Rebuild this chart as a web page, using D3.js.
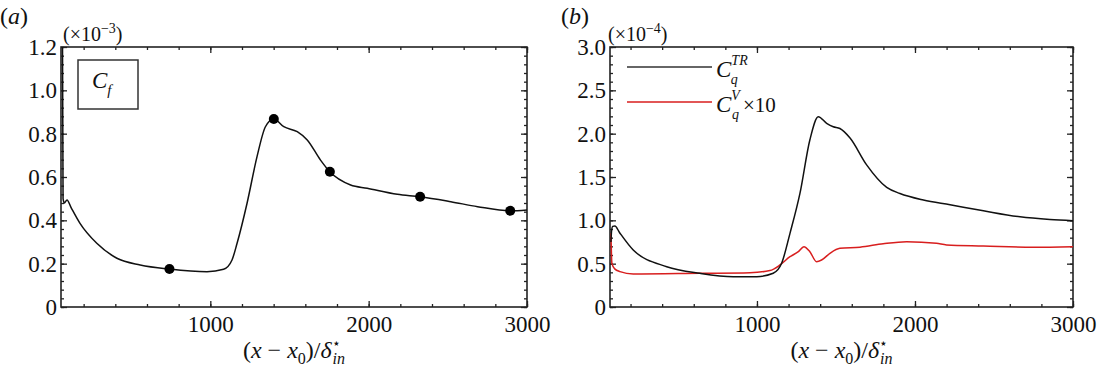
<!DOCTYPE html>
<html>
<head>
<meta charset="utf-8">
<script src="https://cdn.jsdelivr.net/npm/d3@7"></script>
<style>
  body { margin: 0; background: #fff; }
  text { font-family: "Liberation Serif", "Times New Roman", serif; fill: #111; }
</style>
</head>
<body>
<script>
// datos leidos de la figura
// panel (a): Cf
var cfX = [66, 70, 78, 95, 120, 177, 283, 410, 557, 742, 979, 1084, 1137, 1169, 1232, 1295, 1348, 1401, 1464, 1549, 1612, 1696, 1755, 1886, 1991, 2181, 2325, 2519, 2688, 2894, 3000]
var cfY = [1.3, 0.50, 0.48, 0.494, 0.46, 0.386, 0.294, 0.225, 0.194, 0.175, 0.163, 0.174, 0.217, 0.294, 0.479, 0.694, 0.832, 0.868, 0.832, 0.809, 0.771, 0.678, 0.624, 0.563, 0.548, 0.52, 0.509, 0.486, 0.463, 0.444, 0.448]
var dotX = [742, 1401, 1755, 2325, 2894]
var dotY = [0.175, 0.868, 0.624, 0.509, 0.444]

// panel (b): Cq^TR y Cq^V x10
var trX = [76, 80, 87, 101, 130, 217, 429, 639, 850, 998, 1103, 1156, 1209, 1272, 1335, 1388, 1441, 1483, 1525, 1589, 1694, 1821, 1905, 2053, 2222, 2433, 2665, 2854, 3000]
var trY = [0.75, 0.88, 0.93, 0.935, 0.86, 0.658, 0.465, 0.389, 0.35, 0.35, 0.389, 0.504, 0.85, 1.31, 1.93, 2.196, 2.12, 2.08, 2.06, 1.95, 1.64, 1.38, 1.31, 1.235, 1.18, 1.11, 1.04, 1.01, 0.996]
var vX = [76, 82, 100, 133, 217, 639, 956, 1082, 1146, 1209, 1262, 1297, 1335, 1377, 1409, 1462, 1525, 1652, 1799, 1947, 2136, 2200, 2433, 2749, 3000]
var vY = [0.85, 0.504, 0.44, 0.408, 0.38, 0.389, 0.396, 0.42, 0.485, 0.58, 0.638, 0.696, 0.638, 0.523, 0.542, 0.62, 0.677, 0.69, 0.73, 0.754, 0.735, 0.716, 0.704, 0.689, 0.696]

// ticks
var xMajor = [1000, 2000, 3000]
var xMinor = d3.range(200, 3001, 200)
var yMajorA = [0, 0.2, 0.4, 0.6, 0.8, 1.0, 1.2]
var yMinorA = d3.range(0, 1.2001, 0.04)
var yMajorB = [0, 0.5, 1.0, 1.5, 2.0, 2.5, 3.0]
var yMinorB = d3.range(0, 3.0001, 0.1)

var svg = d3.select("body").append("svg")
    .attr("width", 1099)
    .attr("height", 370)

var H = 260, TOP = 47

function zip(a, b) { return a.map((v, i) => [v, b[i]]) }

// dibuja marco, ejes y ticks de un panel
function panel(left, width, xDom, yMax, yMajor, yMinor, fmt, id) {
    var x = d3.scaleLinear().domain(xDom).range([0, width])
    var y = d3.scaleLinear().domain([0, yMax]).range([H, 0])
    var g = svg.append("g").attr("transform", "translate(" + left + "," + TOP + ")")

    g.append("clipPath").attr("id", id).append("rect").attr("x", -2).attr("width", width + 2).attr("height", H)

    // ticks menores
    g.append("g").call(d3.axisLeft(y).tickValues(yMinor).tickSize(-3).tickFormat(""))
    g.append("g").attr("transform", "translate(" + width + ",0)")
        .call(d3.axisRight(y).tickValues(yMinor).tickSize(-3).tickFormat(""))
    g.append("g").attr("transform", "translate(0," + H + ")")
        .call(d3.axisBottom(x).tickValues(xMinor).tickSize(-3).tickFormat(""))
    g.append("g").call(d3.axisTop(x).tickValues(xMinor).tickSize(-3).tickFormat(""))

    // ticks mayores con etiquetas
    g.append("g").attr("class", "lab")
        .call(d3.axisLeft(y).tickValues(yMajor).tickSize(-6).tickPadding(4).tickFormat(fmt))
    g.append("g").attr("transform", "translate(" + width + ",0)")
        .call(d3.axisRight(y).tickValues(yMajor).tickSize(-6).tickFormat(""))
    g.append("g").attr("class", "lab").attr("transform", "translate(0," + H + ")")
        .call(d3.axisBottom(x).tickValues(xMajor).tickSize(-6).tickPadding(9).tickFormat(d3.format("d")))
    g.append("g").call(d3.axisTop(x).tickValues(xMajor).tickSize(-6).tickFormat(""))

    g.selectAll(".domain").remove()
    g.selectAll(".tick line").attr("stroke", "#222").attr("stroke-width", 1.3)
    g.selectAll(".lab text").attr("font-size", 23).attr("font-family", "Liberation Serif").attr("fill", "#111")

    g.append("rect").attr("width", width).attr("height", H)
        .attr("fill", "none").attr("stroke", "#222").attr("stroke-width", 1.6)

    // titulo eje x: (x - x0)/delta*_in
    var t = g.append("text").attr("x", width / 2).attr("y", 311).attr("text-anchor", "middle").attr("font-size", 24)
    t.append("tspan").text("(")
    t.append("tspan").attr("font-style", "italic").text("x")
    t.append("tspan").text(" \u2212 ")
    t.append("tspan").attr("font-style", "italic").text("x")
    t.append("tspan").attr("font-size", 16).attr("dy", 6).text("0")
    t.append("tspan").attr("dy", -6).text(")/")
    t.append("tspan").attr("font-style", "italic").text("\u03b4")
    t.append("tspan").attr("font-size", 14).attr("dy", -10).text("\u22c6")
    t.append("tspan").attr("font-size", 16).attr("font-style", "italic").attr("dy", 16).attr("dx", -8).text("in")

    return { g: g, x: x, y: y }
}

var fmtA = d => d === 0 ? "0" : d3.format(".1f")(d)

// ---------- panel (a)
var A = panel(61, 466, [57, 3000], 1.2, yMajorA, yMinorA, fmtA, "clipA")

var lineA = d3.line().x(d => A.x(d[0])).y(d => A.y(d[1])).curve(d3.curveMonotoneX)
A.g.append("path").datum(zip(cfX, cfY))
    .attr("clip-path", "url(#clipA)")
    .attr("d", lineA).attr("fill", "none").attr("stroke", "#111").attr("stroke-width", 1.5)

A.g.selectAll("circle").data(zip(dotX, dotY)).enter().append("circle")
    .attr("cx", d => A.x(d[0])).attr("cy", d => A.y(d[1])).attr("r", 5).attr("fill", "#000")

// caja Cf
A.g.append("rect").attr("x", 17).attr("y", 13).attr("width", 60).attr("height", 49)
    .attr("fill", "#fff").attr("stroke", "#333").attr("stroke-width", 1.5)
var cf = A.g.append("text").attr("x", 31).attr("y", 41).attr("font-size", 23).attr("font-style", "italic")
cf.append("tspan").text("C")
cf.append("tspan").attr("font-size", 15).attr("dy", 7).text("f")

svg.append("text").attr("x", 0).attr("y", 24).attr("font-size", 24)
    .html('(<tspan font-style="italic">a</tspan>)')
var ea = svg.append("text").attr("x", 63).attr("y", 41).attr("font-size", 20)
ea.append("tspan").text("(\u00d710")
ea.append("tspan").attr("font-size", 14).attr("dy", -8).text("\u22123")
ea.append("tspan").attr("dy", 8).text(")")

// ---------- panel (b)
var B = panel(610, 463, [70, 3000], 3.0, yMajorB, yMinorB, fmtA, "clipB")

var lineB = d3.line().x(d => B.x(d[0])).y(d => B.y(d[1])).curve(d3.curveMonotoneX)
B.g.append("path").datum(zip(vX, vY))
    .attr("clip-path", "url(#clipB)")
    .attr("d", lineB).attr("fill", "none").attr("stroke", "#d81e1e").attr("stroke-width", 1.5)
B.g.append("path").datum(zip(trX, trY))
    .attr("clip-path", "url(#clipB)")
    .attr("d", lineB).attr("fill", "none").attr("stroke", "#111").attr("stroke-width", 1.5)

// leyenda
B.g.append("line").attr("x1", 17).attr("x2", 102).attr("y1", 20).attr("y2", 20)
    .attr("stroke", "#333").attr("stroke-width", 1.5)
B.g.append("line").attr("x1", 17).attr("x2", 102).attr("y1", 55).attr("y2", 55)
    .attr("stroke", "#d81e1e").attr("stroke-width", 1.5)

var l1 = B.g.append("text").attr("x", 106).attr("y", 30).attr("font-size", 23).attr("font-style", "italic")
l1.append("tspan").text("C")
l1.append("tspan").attr("font-size", 14).attr("dy", -12).text("TR")
l1.append("tspan").attr("font-size", 14).attr("dy", 19).attr("dx", -17).text("q")

var l2 = B.g.append("text").attr("x", 106).attr("y", 65).attr("font-size", 23).attr("font-style", "italic")
l2.append("tspan").text("C")
l2.append("tspan").attr("font-size", 14).attr("dy", -12).text("V")
l2.append("tspan").attr("font-size", 14).attr("dy", 19).attr("dx", -8).text("q")
l2.append("tspan").attr("font-style", "normal").attr("font-size", 21).attr("dy", -7).attr("dx", 4).text("\u00d710")

svg.append("text").attr("x", 561).attr("y", 24).attr("font-size", 24)
    .html('(<tspan font-style="italic">b</tspan>)')
var eb = svg.append("text").attr("x", 608).attr("y", 41).attr("font-size", 20)
eb.append("tspan").text("(\u00d710")
eb.append("tspan").attr("font-size", 14).attr("dy", -8).text("\u22124")
eb.append("tspan").attr("dy", 8).text(")")
</script>
</body>
</html>
